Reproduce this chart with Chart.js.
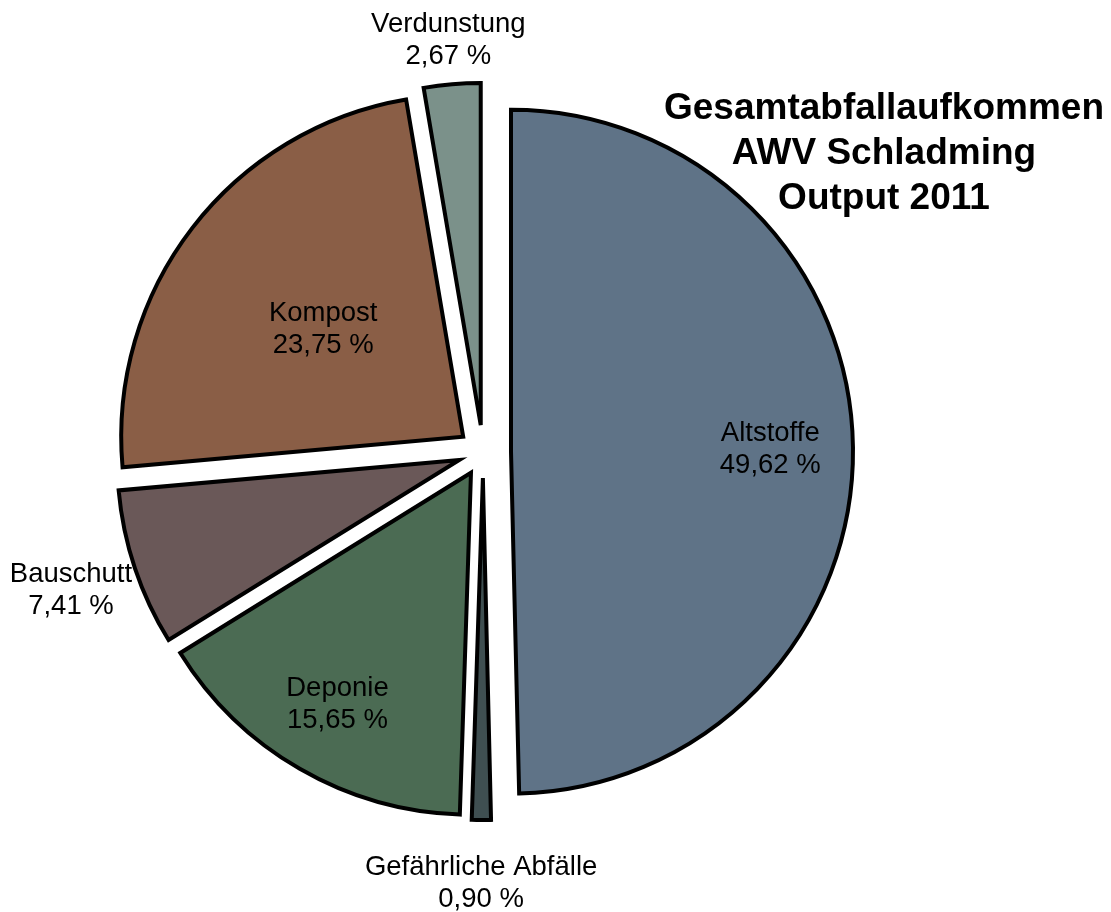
<!DOCTYPE html>
<html>
<head>
<meta charset="utf-8">
<script src="https://cdn.jsdelivr.net/npm/chart.js@4"></script>
<style>
  body { margin: 0; background: #fff; }
  canvas { display: block; }
</style>
</head>
<body>
<canvas id="grafico" width="1111" height="912"></canvas>
<script>
const kategorien = ['Altstoffe', 'Gefährliche Abfälle', 'Deponie', 'Bauschutt', 'Kompost', 'Verdunstung'];
const anteile = [49.62, 0.90, 15.65, 7.41, 23.75, 2.67];
const titelZeilen = ['Gesamtabfallaufkommen', 'AWV Schladming', 'Output 2011'];

const farben = ['#5f7387', '#3f4f51', '#4b6b53', '#6a5858', '#8a5e46', '#7b918a'];
// Verschiebung jedes Stücks nach aussen, in Pixel
const verschiebung = [28, 26, 24, 25, 25, 27];
// Abstand der Beschriftung vom Mittelpunkt (Anteil am Radius)
const labelAbstand = [0.84, 1.26, 0.85, 1.27, 0.59, 1.21];

const radius = 342;
const summe = anteile.reduce((a, b) => a + b, 0);

// Chart.js verschiebt ein Stück um offset/4, macht es dabei aber groesser und schmaler
const fixWerte = anteile.map(v => 1 - Math.sin(Math.min(Math.PI, v / summe * Math.PI * 2)));
const offsets = verschiebung.map(v => v * 4);

const radiusAusgleich = {
    id: 'radiusAusgleich',
    afterDatasetUpdate(chart, args) {
        const meta = chart.getDatasetMeta(args.index);
        meta.data.forEach((arc, i) => {
            const extra = verschiebung[i] * fixWerte[i];
            const winkel = extra / Math.PI / radius / 2;
            arc.outerRadius = radius - extra;
            arc.startAngle -= winkel;
            arc.endAngle += winkel;
        });
    }
};

const beschriftung = {
    id: 'beschriftung',
    afterDatasetsDraw(chart) {
        const ctx = chart.ctx;
        const meta = chart.getDatasetMeta(0);
        ctx.save();
        ctx.fillStyle = '#000';
        ctx.textAlign = 'center';
        ctx.textBaseline = 'middle';
        ctx.font = '27.5px "Liberation Sans", Arial, sans-serif';
        meta.data.forEach((arc, i) => {
            const { x, y, startAngle, endAngle } = arc.getProps(['x', 'y', 'startAngle', 'endAngle'], true);
            const mitte = (startAngle + endAngle) / 2;
            const d = labelAbstand[i] * radius;
            const lx = x + Math.cos(mitte) * d;
            const ly = y + Math.sin(mitte) * d;
            const wert = anteile[i].toFixed(2).replace('.', ',') + ' %';
            ctx.fillText(kategorien[i], lx, ly - 15);
            ctx.fillText(wert, lx, ly + 17);
        });

        ctx.font = 'bold 37px "Liberation Sans", Arial, sans-serif';
        titelZeilen.forEach((zeile, i) => {
            ctx.fillText(zeile, 884, 109 + i * 45);
        });
        ctx.restore();
    }
};

new Chart(document.getElementById('grafico'), {
    type: 'pie',
    data: {
        labels: kategorien,
        datasets: [{
            data: anteile,
            backgroundColor: farben,
            borderColor: '#000',
            borderWidth: 4,
            borderJoinStyle: 'miter',
            offset: offsets
        }]
    },
    options: {
        responsive: false,
        animation: false,
        devicePixelRatio: 1,
        radius: radius,
        layout: { padding: { left: 0, right: 145, top: 0, bottom: 8 } },
        plugins: {
            legend: { display: false },
            title: { display: false },
            tooltip: { enabled: false }
        },
        events: []
    },
    plugins: [radiusAusgleich, beschriftung]
});
</script>
</body>
</html>
